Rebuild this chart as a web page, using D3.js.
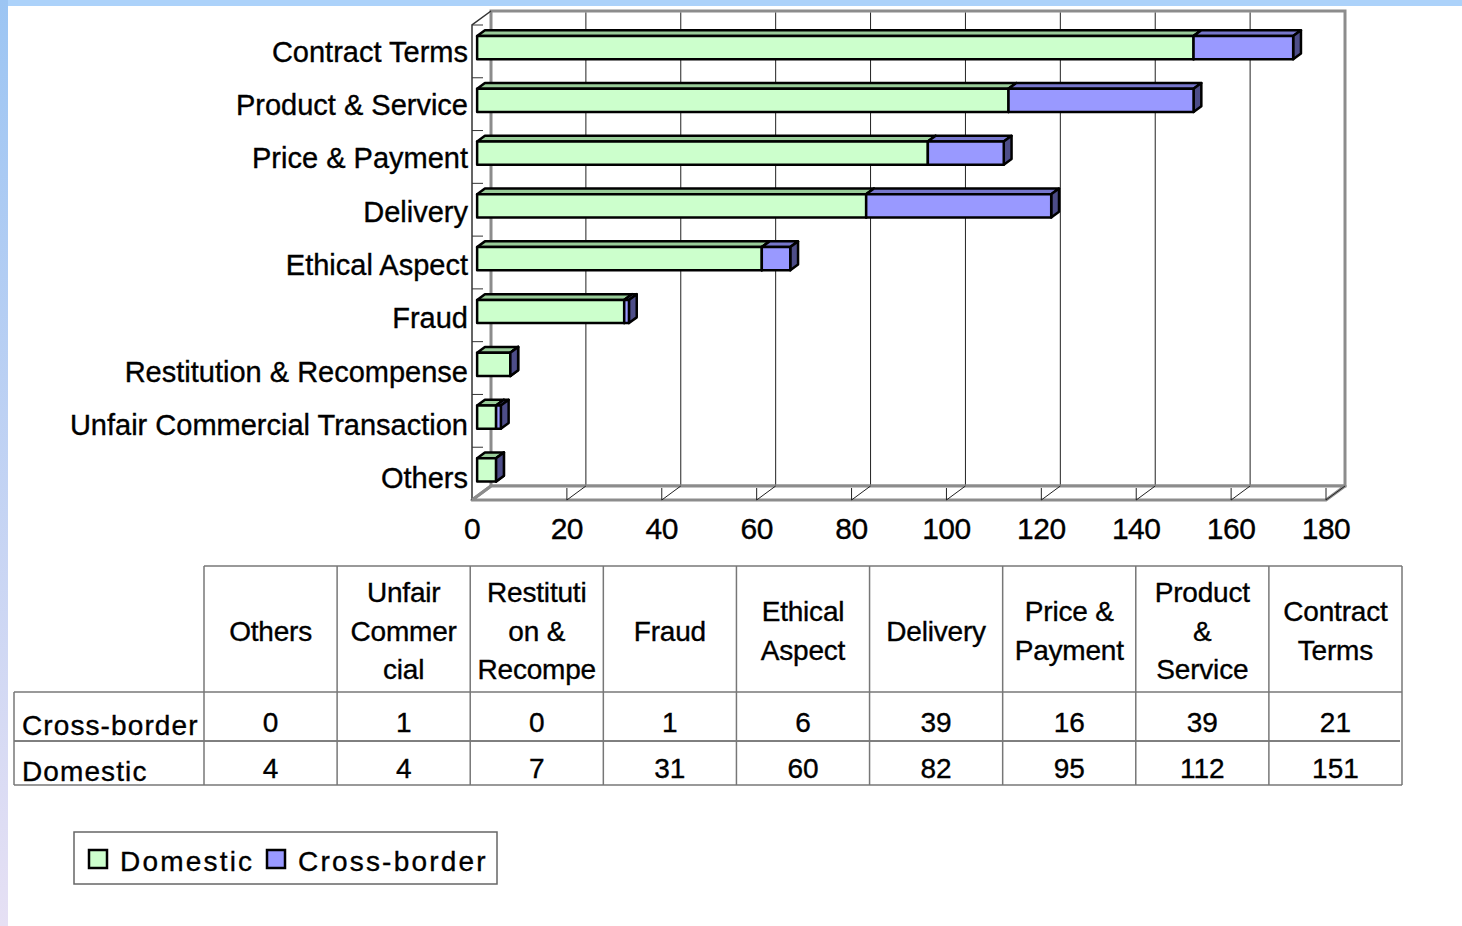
<!DOCTYPE html>
<html>
<head>
<meta charset="utf-8">
<script src="https://cdn.jsdelivr.net/npm/d3@7"></script>
<style>
  html, body { margin: 0; padding: 0; background: #fff; }
  svg { display: block; }
  text { font-family: "Liberation Sans", Arial, sans-serif; fill: #000; stroke: #000; stroke-width: 0.35; }
</style>
</head>
<body>
<svg id="chart" width="1462" height="926"></svg>
<script>
// Complaint counts by category (top to bottom in the chart)
const categories = [
  "Contract Terms", "Product & Service", "Price & Payment", "Delivery",
  "Ethical Aspect", "Fraud", "Restitution & Recompense",
  "Unfair Commercial Transaction", "Others"
];
const domestic    = [151, 112, 95, 82, 60, 31, 7, 4, 4];
const crossBorder = [21, 39, 16, 39, 6, 1, 0, 1, 0];
const xTicks = [0, 20, 40, 60, 80, 100, 120, 140, 160, 180];

// Data table columns run in reverse order, with wrapped header text
const tableHeaders = [
  ["Others"], ["Unfair", "Commer", "cial"], ["Restituti", "on &", "Recompe"],
  ["Fraud"], ["Ethical", "Aspect"], ["Delivery"], ["Price &", "Payment"],
  ["Product", "&", "Service"], ["Contract", "Terms"]
];
const seriesNames = ["Domestic", "Cross-border"];
const colors = {
  Domestic:      { front: "#ccffcc", top: "#99cc99", side: "#669966" },
  "Cross-border": { front: "#9999ff", top: "#7777cc", side: "#4d4d88" }
};

const svg = d3.select("#chart");

// ---- page background: blue frame at top and left ----
const defs = svg.append("defs");
const lg = defs.append("linearGradient").attr("id", "leftStrip")
  .attr("x1", 0).attr("y1", 0).attr("x2", 0).attr("y2", 1);
lg.append("stop").attr("offset", "0%").attr("stop-color", "#9cc5f3");
lg.append("stop").attr("offset", "100%").attr("stop-color", "#e6e0f4");
svg.append("rect").attr("x", 0).attr("y", 0).attr("width", 1462).attr("height", 6).attr("fill", "#acd2fa");
svg.append("rect").attr("x", 0).attr("y", 0).attr("width", 8).attr("height", 926).attr("fill", "url(#leftStrip)");

// ---- 3D plot geometry ----
const depth = { dx: 19, dy: -14 };           // full depth offset of the plot box
const x = d3.scaleLinear().domain([0, 180]).range([472, 1326]);
const y = d3.scaleBand().domain(categories).range([25, 500])
  .paddingInner(0.56).paddingOuter(0.28);
const yTop = 25, yBot = 500;
const f0 = 0.27, f1 = 0.68;                  // bar front/back depth fractions
const off = f => [depth.dx * f, depth.dy * f];

const g = svg.append("g");

// back wall
g.append("rect")
  .attr("x", x(0) + depth.dx).attr("y", yTop + depth.dy)
  .attr("width", x(180) - x(0)).attr("height", yBot - yTop)
  .attr("fill", "#fff").attr("stroke", "#8c8c8c").attr("stroke-width", 3);

// floor
g.append("path")
  .attr("d", `M${x(0)},${yBot} L${x(180)},${yBot} L${x(180) + depth.dx},${yBot + depth.dy} L${x(0) + depth.dx},${yBot + depth.dy} Z`)
  .attr("fill", "#fff").attr("stroke", "#8c8c8c").attr("stroke-width", 3).attr("stroke-linejoin", "round");

// gridlines on back wall and floor, plus front tick marks
xTicks.filter(t => t > 0 && t < 180).forEach(t => {
  g.append("line")
    .attr("x1", x(t) + depth.dx).attr("x2", x(t) + depth.dx)
    .attr("y1", yTop + depth.dy + 1.5).attr("y2", yBot + depth.dy - 1.5)
    .attr("stroke", "#222").attr("stroke-width", 1);
});
xTicks.filter(t => t > 0).forEach(t => {
  g.append("line")
    .attr("x1", x(t)).attr("y1", yBot)
    .attr("x2", x(t) + depth.dx).attr("y2", yBot + depth.dy)
    .attr("stroke", "#222").attr("stroke-width", 1);
  g.append("line")
    .attr("x1", x(t)).attr("x2", x(t))
    .attr("y1", yBot).attr("y2", yBot - 12)
    .attr("stroke", "#222").attr("stroke-width", 1);
});

// left (category) wall
g.append("path")
  .attr("d", `M${x(0)},${yBot} L${x(0)},${yTop} L${x(0) + depth.dx},${yTop + depth.dy}`)
  .attr("fill", "none").attr("stroke", "#333").attr("stroke-width", 1.5);
g.append("line")
  .attr("x1", x(0)).attr("y1", yBot).attr("x2", x(0) + depth.dx).attr("y2", yBot + depth.dy)
  .attr("stroke", "#8c8c8c").attr("stroke-width", 3);

// category tick marks at band boundaries
const step = y.step();
d3.range(categories.length).forEach(i => {
  const yy = yTop + i * step;
  g.append("line")
    .attr("x1", x(0)).attr("x2", x(0) + 11)
    .attr("y1", yy).attr("y2", yy)
    .attr("stroke", "#333").attr("stroke-width", 1);
});

// ---- 3D stacked bars ----
function drawBox(sel, v0, v1, cat, c) {
  const [ax, ay] = off(f0), [bx, by] = off(f1);
  const y0 = y(cat), y1 = y(cat) + y.bandwidth();
  const X0 = x(v0), X1 = x(v1);
  const pts = a => a.map(p => p.join(",")).join(" ");
  const box = sel.append("g").attr("stroke", "#000").attr("stroke-width", 2.5).attr("stroke-linejoin", "round");
  box.append("polygon")
    .attr("points", pts([[X0 + ax, y0 + ay], [X1 + ax, y0 + ay], [X1 + bx, y0 + by], [X0 + bx, y0 + by]]))
    .attr("fill", c.top);
  box.append("polygon")
    .attr("points", pts([[X1 + ax, y0 + ay], [X1 + bx, y0 + by], [X1 + bx, y1 + by], [X1 + ax, y1 + ay]]))
    .attr("fill", c.side);
  box.append("rect")
    .attr("x", X0 + ax).attr("y", y0 + ay)
    .attr("width", X1 - X0).attr("height", y1 - y0)
    .attr("fill", c.front);
}

const bars = g.append("g");
categories.forEach((cat, i) => {
  drawBox(bars, 0, domestic[i], cat, colors.Domestic);
  drawBox(bars, domestic[i], domestic[i] + crossBorder[i], cat, colors["Cross-border"]);
});

// category labels
g.append("g").selectAll("text").data(categories).join("text")
  .attr("x", 468).attr("y", (d, i) => y(d) + y.bandwidth() / 2 + 0.5 + i * 0.5)
  .attr("text-anchor", "end").attr("dominant-baseline", "central")
  .attr("font-size", 29).attr("letter-spacing", 0)
  .text(d => d);

// value axis labels
g.append("g").selectAll("text").data(xTicks).join("text")
  .attr("x", d => x(d)).attr("y", 528)
  .attr("text-anchor", "middle").attr("dominant-baseline", "central")
  .attr("font-size", 30).attr("letter-spacing", -0.5)
  .text(d => d);

// ---- data table ----
const tableCats = categories.slice().reverse();
const col = d3.scaleBand().domain(tableCats).range([204, 1402]);
const tTop = 566, tHead = 692, tMid = 741, tBot = 785, tLeft = 14;
const tg = svg.append("g");
const gray = "#777";
const ln = (x1, y1, x2, y2, s, w) => tg.append("line")
  .attr("x1", x1).attr("y1", y1).attr("x2", x2).attr("y2", y2)
  .attr("stroke", s).attr("stroke-width", w);

ln(204, tTop, 1402, tTop, gray, 1.5);
ln(tLeft, tHead, 1402, tHead, gray, 1.5);
ln(tLeft, tMid, 1400, tMid, "#000", 1);
ln(tLeft, tBot, 1402, tBot, gray, 1.5);
ln(tLeft, tHead, tLeft, tBot, gray, 1.5);
tableCats.forEach(c => ln(col(c), tTop, col(c), tBot, gray, 1.5));
ln(1402, tTop, 1402, tBot, gray, 1.5);

// header cells
tableCats.forEach((c, i) => {
  const lines = tableHeaders[i];
  const cx = col(c) + col.bandwidth() / 2;
  const lh = 38.5, cy = (tTop + tHead) / 2 + 2;
  lines.forEach((t, j) => {
    tg.append("text")
      .attr("x", cx).attr("y", cy + (j - (lines.length - 1) / 2) * lh)
      .attr("text-anchor", "middle").attr("dominant-baseline", "central")
      .attr("font-size", 28).attr("letter-spacing", -0.2)
      .text(t);
  });
});

// value rows
const rows = [
  { name: "Cross-border", vals: crossBorder.slice().reverse(), cy: 722 },
  { name: "Domestic", vals: domestic.slice().reverse(), cy: 768 }
];
rows.forEach(r => {
  tg.append("text")
    .attr("x", 22).attr("y", r.cy + 3)
    .attr("dominant-baseline", "central")
    .attr("font-size", 28).attr("letter-spacing", 1.1)
    .text(r.name);
  tableCats.forEach((c, i) => {
    tg.append("text")
      .attr("x", col(c) + col.bandwidth() / 2).attr("y", r.cy)
      .attr("text-anchor", "middle").attr("dominant-baseline", "central")
      .attr("font-size", 28)
      .text(r.vals[i]);
  });
});

// ---- legend ----
const leg = svg.append("g");
leg.append("rect").attr("x", 74).attr("y", 832).attr("width", 423).attr("height", 52)
  .attr("fill", "#fff").attr("stroke", "#666").attr("stroke-width", 1.5);
const legX = [89, 267];
seriesNames.forEach((s, i) => {
  leg.append("rect").attr("x", legX[i]).attr("y", 850).attr("width", 18).attr("height", 18)
    .attr("fill", colors[s].front).attr("stroke", "#000").attr("stroke-width", 2.5);
  leg.append("text").attr("x", legX[i] + 31).attr("y", 861)
    .attr("dominant-baseline", "central").attr("font-size", 28).attr("letter-spacing", 2.2)
    .text(s);
});
</script>
</body>
</html>
